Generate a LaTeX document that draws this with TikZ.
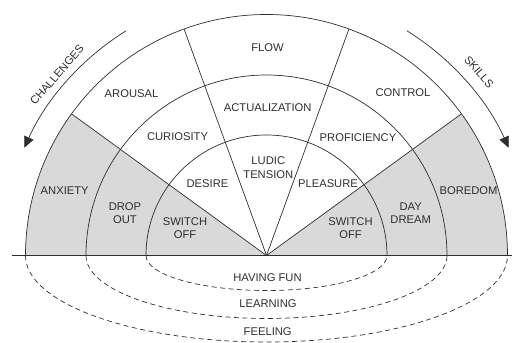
\documentclass[tikz,border=0pt]{standalone}
\usepackage{fontspec}
\setmainfont{Liberation Sans}
\usetikzlibrary{arrows.meta,calc}
\definecolor{ink}{HTML}{2E2E2E}
\definecolor{greyfill}{HTML}{D9D9D9}
\tikzset{
  lbl/.style={inner sep=0pt, text=ink, align=center, font=\fontsize{11.2}{13.5}\selectfont},
  ring/.style={draw=ink, line width=0.7pt},
  spoke/.style={draw=ink, line width=0.7pt},
  dashring/.style={draw=ink, line width=0.7pt, dash pattern=on 5pt off 3.5pt},
  dirarrow/.style={draw=ink, line width=0.7pt, -{Triangle[length=11pt,width=10pt]}},
  sector/.style={fill=greyfill, draw=none},
}
\begin{document}
\begin{tikzpicture}[x=1pt,y=1pt]
\useasboundingbox (0,0) rectangle (512,343);
\coordinate (O) at (266.5,87.5);
% gray sectors
\path[sector] (O) -- ++(0:241) arc (0:36:241) -- cycle;
\path[sector] (O) -- ++(144:241) arc (144:180:241) -- cycle;
% rings
\draw[ring] ($(O)+(0:120.5)$) arc (0:180:120.5);
\draw[ring] ($(O)+(0:180.5)$) arc (0:180:180.5);
\draw[ring] ($(O)+(0:241)$) arc (0:180:241);
% spokes
\coordinate (s1) at ($(O)+(36:241)$);
\coordinate (s2) at ($(O)+(70:241)$);
\coordinate (s3) at ($(O)+(110:241)$);
\coordinate (s4) at ($(O)+(144:241)$);
\draw[spoke] (O) -- (s1);
\draw[spoke] (O) -- (s2);
\draw[spoke] (O) -- (s3);
\draw[spoke] (O) -- (s4);
% baseline
\coordinate (bl) at (11.7,87.5);
\coordinate (br) at (512,87.5);
\draw[ink, line width=1.5pt] (bl) -- (br);
% dashed half ellipses
\draw[dashring] ($(O)+(180:120.5)$) arc[start angle=180, end angle=360, x radius=120.5, y radius=35];
\draw[dashring] ($(O)+(180:180.5)$) arc[start angle=180, end angle=360, x radius=180.5, y radius=63];
\draw[dashring] ($(O)+(180:241)$) arc[start angle=180, end angle=360, x radius=241, y radius=86.5];
% direction arrows
\coordinate (c0) at ($(O)+(122:265)$);
\coordinate (k0) at ($(O)+(58:265)$);
\draw[dirarrow] (c0) arc (122:156:265);
\draw[dirarrow] (k0) arc (58:24:265);
% labels
\node[lbl, rotate=49] (challenges) at (57,268) {CHALLENGES};
\node[lbl, rotate=-49] (skills) at (479,271) {SKILLS};
\node[lbl] (flow) at (267.5,295.7) {FLOW};
\node[lbl] (arousal) at (131.5,249.5) {AROUSAL};
\node[lbl] (actual) at (267.7,235.3) {ACTUALIZATION};
\node[lbl] (control) at (403,250.3) {CONTROL};
\node[lbl] (curiosity) at (177.5,206.3) {CURIOSITY};
\node[lbl] (proficiency) at (358,205.7) {PROFICIENCY};
\node[lbl] (ludic) at (268.3,175.5) {LUDIC\\TENSION};
\node[lbl] (desire) at (207.5,159.3) {DESIRE};
\node[lbl] (pleasure) at (328,159.3) {PLEASURE};
\node[lbl] (anxiety) at (64.7,152.7) {ANXIETY};
\node[lbl] (dropout) at (125,130.1) {DROP\\OUT};
\node[lbl] (offl) at (185,115) {SWITCH\\OFF};
\node[lbl] (offr) at (350.5,115) {SWITCH\\OFF};
\node[lbl] (daydream) at (410.7,130) {DAY\\DREAM};
\node[lbl] (boredom) at (468.5,152) {BOREDOM};
\node[lbl] (fun) at (267.5,65) {HAVING FUN};
\node[lbl] (learning) at (268,39.3) {LEARNING};
\node[lbl] (feeling) at (267.7,11.7) {FEELING};
\end{tikzpicture}
\end{document}
